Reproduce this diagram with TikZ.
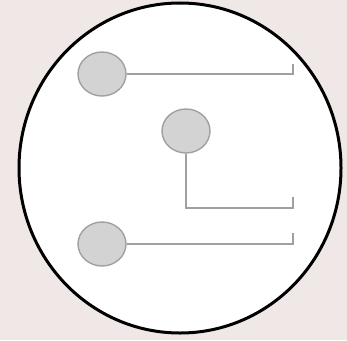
\documentclass[tikz,border=0pt]{standalone}
\usetikzlibrary{shapes.geometric}
\definecolor{bgc}{HTML}{EFE8E6}
\definecolor{nodefill}{HTML}{D3D3D3}
\definecolor{nodeline}{HTML}{A0A0A0}
\begin{document}
\begin{tikzpicture}[x=1pt,y=-1pt,
  blob/.style={ellipse,draw=nodeline,fill=nodefill,line width=1.4pt,minimum width=48pt,minimum height=44pt,inner sep=0pt},
  wire/.style={draw=nodeline,line width=1.4pt}]
\fill[bgc] (0,0) rectangle (347,340);
\useasboundingbox (0,0) rectangle (347,340);
\draw[black,fill=white,line width=3pt] (180,168) ellipse [x radius=161,y radius=165];
\node[blob] (a) at (102,74) {};
\node[blob] (b) at (186,131) {};
\node[blob] (c) at (102,244) {};
\coordinate (a1) at (293,74);
\coordinate (a2) at (293,64);
\coordinate (b0) at (186,208);
\coordinate (b1) at (293,208);
\coordinate (b2) at (293,197);
\coordinate (c1) at (293,244);
\coordinate (c2) at (293,233);
\draw[wire] (a.east) -- (a1) -- (a2);
\draw[wire] (b.south) -- (b0) -- (b1) -- (b2);
\draw[wire] (c.east) -- (c1) -- (c2);
\end{tikzpicture}
\end{document}
